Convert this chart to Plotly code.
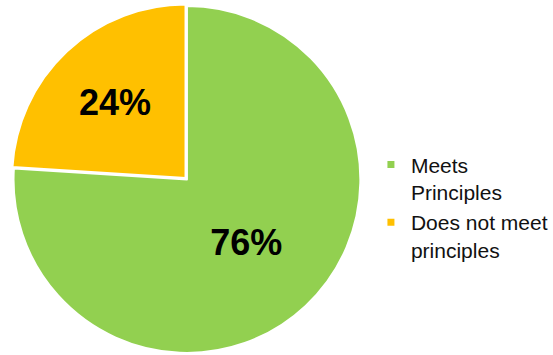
import plotly.graph_objects as go

categories = ["Meets<br>Principles", "Does not meet<br>principles"]
values = [76, 24]
colors = ["#92D050", "#FFC000"]

fig = go.Figure()
fig.add_trace(go.Pie(
    labels=categories,
    values=values,
    sort=False,
    direction="clockwise",
    rotation=0,
    pull=[0, 0.012],
    marker=dict(colors=colors, line=dict(color="white", width=2)),
    texttemplate="<b>%{percent}</b>",
    textposition="inside",
    insidetextorientation="horizontal",
    textfont=dict(family="Liberation Sans, Arial", size=36, color="black"),
    domain=dict(x=[0, 378 / 553], y=[0, 1]),
    showlegend=False,
    hoverinfo="label+percent",
))

for name, col in zip(categories, colors):
    fig.add_trace(go.Scatter(
        x=[None], y=[None], mode="markers", name=name,
        marker=dict(symbol="square", size=7, color=col),
    ))

fig.update_layout(
    width=553, height=355,
    margin=dict(l=0, r=0, t=4, b=0),
    paper_bgcolor="white", plot_bgcolor="white",
    xaxis=dict(visible=False), yaxis=dict(visible=False),
    legend=dict(
        x=375 / 553, y=1 - 142 / 355, xanchor="left", yanchor="top",
        font=dict(family="Liberation Sans, Arial", size=21, color="#111111"),
        valign="top", tracegroupgap=6, bgcolor="rgba(0,0,0,0)",
    ),
)

fig.write_html("out.html")
